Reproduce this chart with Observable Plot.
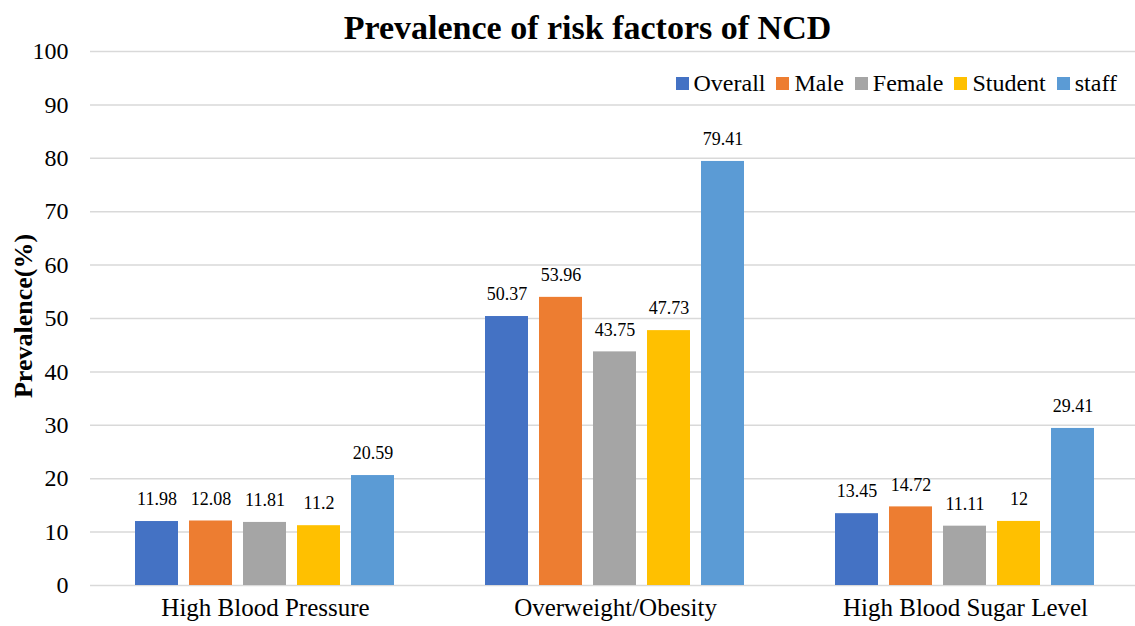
<!DOCTYPE html>
<html>
<head>
<meta charset="utf-8">
<script src="https://cdn.jsdelivr.net/npm/d3@7"></script>
<script src="https://cdn.jsdelivr.net/npm/@observablehq/plot@0.6"></script>
<style>
  html, body { margin: 0; padding: 0; background: #fff; }
  #wrap, #wrap * { font-family: "Liberation Serif", "DejaVu Serif", serif !important; }
  #wrap { position: relative; width: 1135px; height: 626px; overflow: hidden; }
  #title { position: absolute; left: 40px; width: 1095px; top: 9px; text-align: center; font-size: 34px; line-height: 38px; font-weight: bold; color: #000; }
  #ylab { position: absolute; left: 24px; top: 316px; transform: translate(-50%, -50%) rotate(-90deg); font-size: 26px; font-weight: bold; white-space: nowrap; color: #000; }
  #legend { position: absolute; right: 18px; top: 69px; display: flex; gap: 11px; font-size: 24px; line-height: 28px; color: #000; align-items: center; }
  #legend span.item { display: flex; align-items: center; gap: 5px; }
  #legend span.sw { display: inline-block; width: 13px; height: 13px; }
  #chart svg { position: absolute; left: 0; top: 0; }
</style>
</head>
<body>
<div id="wrap">
  <div id="chart"></div>
  <div id="title">Prevalence of risk factors of NCD</div>
  <div id="ylab">Prevalence(%)</div>
  <div id="legend"></div>
</div>
<script>
const categories = ["High Blood Pressure", "Overweight/Obesity", "High Blood Sugar Level"];
const seriesNames = ["Overall", "Male", "Female", "Student", "staff"];
const seriesColors = ["#4472C4", "#ED7D31", "#A5A5A5", "#FFC000", "#5B9BD5"];
const overall = [11.98, 50.37, 13.45];
const male = [12.08, 53.96, 14.72];
const female = [11.81, 43.75, 11.11];
const student = [11.2, 47.73, 12];
const staff = [20.59, 79.41, 29.41];
const yTicks = [0, 10, 20, 30, 40, 50, 60, 70, 80, 90, 100];

const seriesValues = [overall, male, female, student, staff];
const data = [];
categories.forEach((c, i) => {
  seriesNames.forEach((s, j) => {
    data.push({category: c, series: s, value: seriesValues[j][i]});
  });
});

const serif = "Liberation Serif, DejaVu Serif, serif";
const chart = Plot.plot({
  width: 1135,
  height: 626,
  marginLeft: 90,
  marginRight: 0,
  marginTop: 51,
  marginBottom: 41,
  style: {fontFamily: serif, background: "transparent"},
  fx: {domain: categories, range: [90, 1140], padding: 0, label: null},
  x: {domain: seriesNames, paddingInner: 0.2, paddingOuter: 0.82, axis: null},
  y: {domain: [0, 100], ticks: yTicks, label: null},
  color: {domain: seriesNames, range: seriesColors},
  marks: [
    Plot.gridY(yTicks, {stroke: "#d9d9d9", strokeOpacity: 1, strokeWidth: 1.5}),
    Plot.axisY(yTicks, {tickSize: 0, tickPadding: 22, fontSize: 24, fill: "#000", label: null, fontFamily: serif}),
    Plot.axisFx({anchor: "bottom", tickSize: 0, tickPadding: 13, fontSize: 25, fill: "#000", label: null, fontFamily: serif}),
    Plot.barY(data, {fx: "category", x: "series", y: "value", fill: "series"}),
    Plot.text(data, {fx: "category", x: "series", y: "value", text: d => String(d.value), dy: -22, fontSize: 18, fill: "#000", fontFamily: serif})
  ]
});
document.getElementById("chart").appendChild(chart);

const legend = document.getElementById("legend");
seriesNames.forEach((s, i) => {
  const item = document.createElement("span");
  item.className = "item";
  const sw = document.createElement("span");
  sw.className = "sw";
  sw.style.background = seriesColors[i];
  item.appendChild(sw);
  item.appendChild(document.createTextNode(s));
  legend.appendChild(item);
});
</script>
</body>
</html>
